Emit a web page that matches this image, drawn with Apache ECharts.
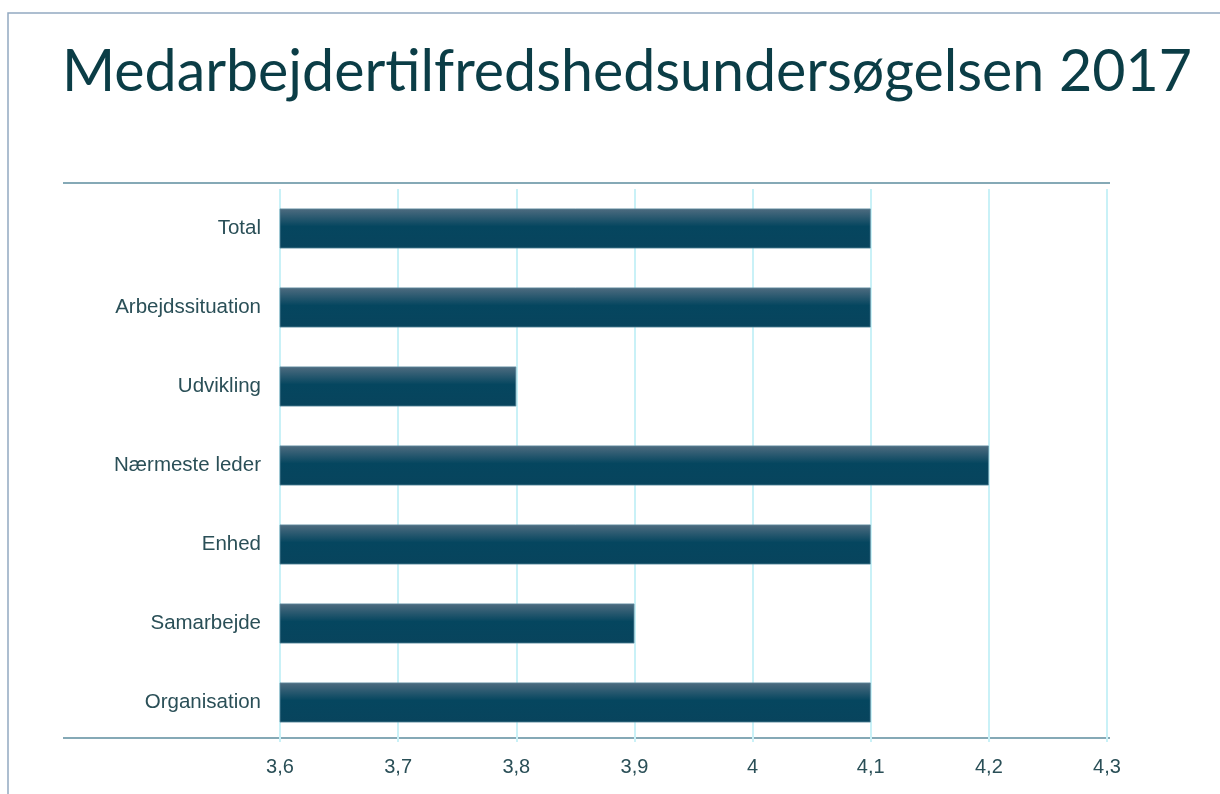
<!DOCTYPE html>
<html><head><meta charset="utf-8">
<script src="https://cdn.jsdelivr.net/npm/echarts@6/dist/echarts.min.js"></script>
<style>html,body{margin:0;padding:0;background:#fff}#c{width:1220px;height:794px}</style>
</head><body><div id="c"></div>
<script>
const categories = ['Total','Arbejdssituation','Udvikling','Nærmeste leder','Enhed','Samarbejde','Organisation'];
const values = [4.1, 4.1, 3.8, 4.2, 4.1, 3.9, 4.1];
const titleText = 'Medarbejdertilfredshedsundersøgelsen 2017';
const axisMin = 3.6, axisMax = 4.3, axisStep = 0.1;

const chart = echarts.init(document.getElementById('c'));
const G = {left: 280, right: 113, top: 189, bottom: 52};
chart.setOption({
  animation: false,
  backgroundColor: '#fff',
  title: {text: titleText, left: 57, top: 39,
    textStyle: {fontFamily: 'Lato', fontSize: 57.3, fontWeight: 'normal', color: '#0b3d46'}},
  grid: G,
  xAxis: {type: 'value', min: axisMin, max: axisMax, interval: axisStep,
    axisLine: {show: false}, axisTick: {show: false},
    splitLine: {show: true, lineStyle: {color: '#c9f1f7', width: 2}},
    axisLabel: {margin: 15, fontFamily: 'Liberation Sans', fontSize: 20, color: '#2a4f57',
      formatter: v => (Math.round(v*10)/10).toString().replace('.', ',')}},
  yAxis: {type: 'category', data: categories, inverse: true,
    axisLine: {show: false}, axisTick: {show: false},
    axisLabel: {margin: 19, fontFamily: 'Liberation Sans', fontSize: 20.5, color: '#2a4f57'}},
  series: [{type: 'bar', data: values, barWidth: 40,
    itemStyle: {borderColor: '#5e8ba0', borderWidth: 0.8,
      color: new echarts.graphic.LinearGradient(0,0,0,1,[
        {offset: 0, color: '#4f6c80'}, {offset: 0.45, color: '#05465f'}, {offset: 1, color: '#08445d'}])}}],
  graphic: [
    {type: 'rect', shape: {x: 8, y: 13, width: 1400, height: 1000}, style: {fill: 'none', stroke: '#93a9c1', lineWidth: 1.5}, silent: true, z: -1},
    {type: 'line', shape: {x1: 63, y1: 183, x2: 1110, y2: 183}, style: {stroke: '#5d8c9e', lineWidth: 1.5}},
    {type: 'line', shape: {x1: 63, y1: 738, x2: 1110, y2: 738}, style: {stroke: '#5d8c9e', lineWidth: 1.5}}
  ]
});
</script></body></html>
